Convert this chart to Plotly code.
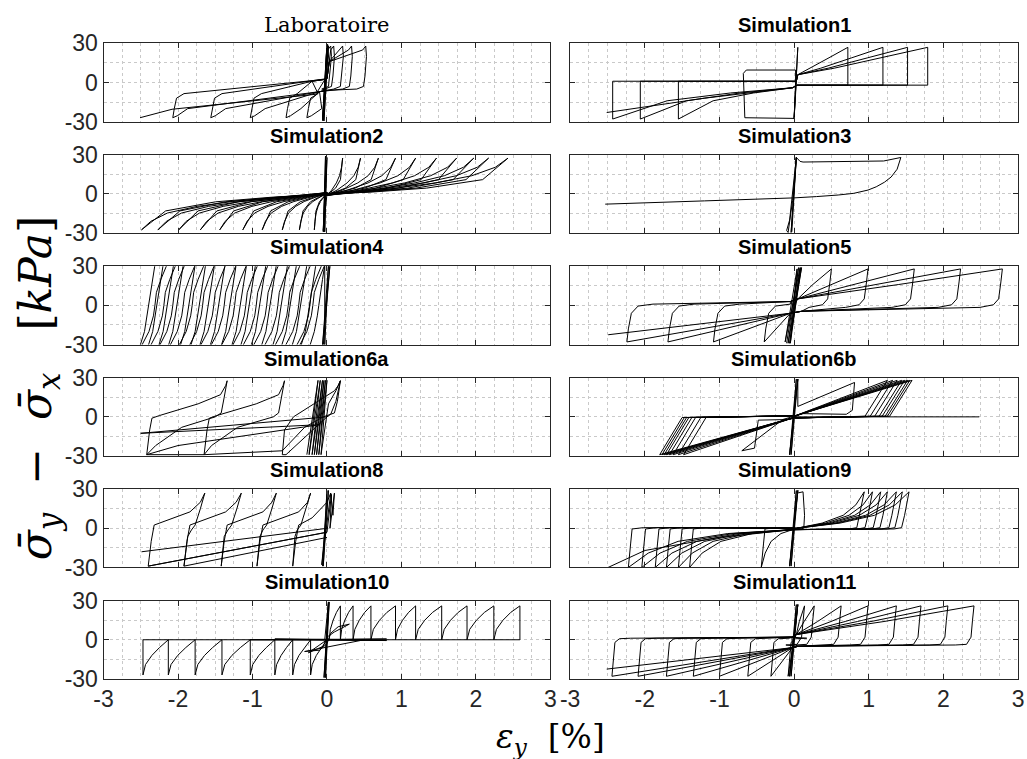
import plotly.graph_objects as go

# ---------------------------------------------------------------- layout (px)
FIG_W, FIG_H = 1027, 759
COL_X = [(95, 549), (569, 1024)]
ROW_TOP0, ROW_PITCH, ROW_H = 31.5, 115.4, 81

titles = ["Laboratoire", "Simulation1", "Simulation2", "Simulation3",
          "Simulation4", "Simulation5", "Simulation6a", "Simulation6b",
          "Simulation8", "Simulation9", "Simulation10", "Simulation11"]

x_ticks = [-3, -2, -1, 0, 1, 2, 3]
y_ticks = [-30, 0, 30]

# ---------------------------------------------------------------- data
# Loop templates: (kind, value, stress)
#   'c' -> strain = value
#   'a' -> strain = turning strain + value
#   'f' -> strain = turning strain * value

# Laboratoire
lab_core_x = [-0.05, 0.0, -0.06, 0.01, -0.04, 0.02, -0.06, 0.0, -0.05, 0.01, -0.02]
lab_core_y = [-29.5, 29.5, -29.0, 29.0, -29.5, 28.0, -29.0, 29.5, -28.5, 28.5, 2.0]
lab_xmax = [0.05, 0.09, 0.21, 0.33, 0.52]
lab_xmin = [-0.27, -0.55, -1.03, -1.56, -2.07]
lab_pos = [("c", 0.0, 3), ("c", 0.03, 16), ("a", -0.04, 25), ("a", 0.0, 28),
           ("a", 0.01, 20), ("a", -0.01, 5), ("a", -0.03, -3), ("a", -0.12, -5),
           ("c", 0.0, -6)]
lab_neg = [("c", -0.1, -7), ("a", 0.2, -20), ("a", 0.06, -25.5), ("a", 0.0, -27),
           ("a", 0.02, -20), ("a", 0.05, -12), ("a", 0.15, -8.5), ("c", -0.2, 1),
           ("c", -0.02, 2.5)]
lab_tail_x = [-0.02, -0.15, -2.08, -2.51]
lab_tail_y = [3.0, -9.0, -20.5, -27.0]

# Simulation1
sim1_core_x = [0.0, 0.04, 0.01, 0.05, 0.0, 0.04, 0.02, 0.02, -0.64, -0.68, -0.66, 0.0, 0.02]
sim1_core_y = [-27, 27, -27, 27, -28, 26, 0, 9.6, 9.6, 7, -27, -27.5, 0]
sim1_xmax = [0.72, 1.19, 1.52, 1.79]
sim1_xmin = [-1.55, -2.06, -2.43]
sim1_pos = [("c", 0.03, 1), ("c", 0.05, 6), ("f", 0.3, 11), ("f", 0.65, 19),
            ("a", 0.0, 27), ("a", 0.0, -2), ("c", 0.04, -2)]
sim1_neg = [("c", -0.02, -4), ("f", 0.35, -8), ("f", 0.7, -14), ("a", 0.0, -28),
            ("a", 0.0, 1), ("c", 0.0, 1)]
sim1_tail_x = [-0.02, -1.2, -2.51]
sim1_tail_y = [-4.0, -12.0, -23.0]

# Simulation2
sim2_core_x = [-0.04, -0.02, -0.05, -0.01, -0.04, 0.0, -0.03, -0.01, -0.05, 0.0]
sim2_core_y = [-29, 29, -29, 29, -29, 28, -29, 29, -28, 0]
sim2_xmax = [0.21, 0.45, 0.69, 0.92, 1.19, 1.47, 1.74, 1.97, 2.17, 2.43]
sim2_xmin = [-0.17, -0.37, -0.60, -0.87, -1.13, -1.44, -1.70, -1.99, -2.27, -2.49]
sim2_pos = [("c", 0.0, -1), ("f", 0.3, 3), ("f", 0.6, 8.5), ("f", 0.8, 14),
            ("f", 0.93, 20.5), ("a", 0.0, 27.5), ("f", 0.86, 11),
            ("f", 0.55, 4.5), ("f", 0.25, 1.5), ("c", 0.0, 0)]
sim2_neg = [("c", 0.0, 1), ("f", 0.22, -2), ("f", 0.51, -5.8), ("f", 0.7, -9.5),
            ("f", 0.86, -14.6), ("f", 0.95, -21), ("a", 0.0, -27.5), ("f", 0.87, -13),
            ("f", 0.6, -6), ("f", 0.3, -2.5), ("c", 0.0, 0)]

# Simulation3
sim3_x = [-0.03, 0.03, -0.04, 0.02, -0.03, 0.03, -0.06, -0.1, -0.08, -0.02, 0.03,
          0.08, 0.12, 0.6, 1.2, 1.43, 1.38, 1.3, 1.21, 1.1, 0.99, 0.8, 0.59, 0.3,
          0.0, -1.2, -2.53]
sim3_y = [-29, 28, -29.5, 27.5, -29, 28, -20, -28, -29.5, -5, 28, 25, 24.5, 24.8,
          25.3, 28, 19, 13, 9, 5.5, 3, 0.5, -0.8, -2, -3, -5.3, -7.8]

# Simulation4
sim4_core_x = [-0.05, 0.03, -0.04, 0.04, -0.06, 0.02, -0.03]
sim4_core_y = [-31, 31, -31, 31, -31, 31, -31]
sim4_top = [-0.03, -0.15, -0.27, -0.41, -0.53, -0.68, -0.82, -0.96, -1.08, -1.22,
            -1.37, -1.51, -1.63, -1.77, -1.93, -2.06, -2.20, -2.31]
sim4_bottom = [-0.37, -0.41, -0.56, -0.70, -0.84, -0.99, -1.13, -1.27,
               -1.42, -1.56, -1.70, -1.85, -1.99, -2.11, -2.25, -2.37, -2.49]
sim4_pos = [("a", 0.0, 31), ("a", -0.03, 20), ("a", -0.06, 10), ("a", -0.08, 0),
            ("a", -0.1, -8), ("a", -0.14, -20), ("a", -0.2, -31)]
sim4_neg = [("a", 0.0, -31), ("a", 0.1, -20), ("a", 0.16, -8), ("a", 0.18, 0),
            ("a", 0.2, 10), ("a", 0.26, 20), ("a", 0.34, 31)]

# Simulation5
sim5_core_x = [-0.1, 0.06, -0.08, 0.1, -0.06, 0.08, -0.12, 0.04, -0.05, 0.09, 0.0]
sim5_core_y = [-29, 29, -29, 29, -29, 29, -28, 28, -29, 29, 0]
sim5_xmax = [0.5, 0.99, 1.61, 2.23, 2.79]
sim5_xmin = [-0.40, -1.08, -1.69, -2.24]
sim5_pos = [("c", 0.05, 5), ("f", 0.5, 16), ("a", 0.0, 28), ("a", -0.02, 18),
            ("a", -0.05, 5), ("a", -0.12, 0.5), ("a", -0.3, -1.5), ("c", 0.1, -4.5)]
sim5_neg = [("c", -0.05, -6), ("a", 0.0, -28), ("a", 0.02, -18), ("a", 0.06, -6),
            ("a", 0.15, -0.5), ("a", 0.35, 1), ("c", -0.05, 3)]
sim5_tail_x = [-0.05, -2.49]
sim5_tail_y = [-6.0, -22.5]

# Simulation6a
sim6a_x = [-0.27, -0.12, -0.24, -0.09, -0.2, -0.06, -0.17, -0.04, -0.14, -0.02,
           -0.11, 0.0, -0.08, 0.02, 0.12, 0.18, 0.12, 0.05, 0.0,
           -0.55, -0.6, -0.57, -0.45, -0.05, 0.1, 0.15, 0.18, 0.14, 0.1, -0.05,
           -0.3, -0.6,
           -1.65, -1.61, -1.58, -1.48, -0.95, -0.65, -0.59, -0.57, -0.61, -0.65,
           -0.72, -1.2, -1.55, -1.65,
           -2.42, -2.38, -2.35, -2.25, -1.73, -1.43, -1.36, -1.34, -1.38, -1.42,
           -1.5, -1.95, -2.3, -2.42,
           -2.0, -0.1, -2.5, 0.0]
sim6a_y = [-29, 28, -29, 28, -29, 28, -29, 28, -29, 28, -29, 28, -29, 10, 20,
           27.7, 12, 2, 0,
           -29, -29, -10, 0, 15, 20, 24, 27.7, 12, 3, 0, -8, -26,
           -29, -10, -1, 1, 10, 17, 24, 27.7, 15, 3, 0, -8, -22, -29,
           -29, -10, -1, 1, 10, 17, 24, 27.7, 15, 3, 0, -8, -22, -29,
           -22, -6, -12.6, 0]

# Simulation6b
sim6b_core_x = [-0.06, 0.04, -0.05, 0.05, -0.06, 0.03, -0.04, 0.05, 0.05, 0.81,
                0.78, 0.7, 0.1, -0.05, -0.48, -0.53, -0.7, -0.15, 0.0]
sim6b_core_y = [-29, 29, -29, 29, -29, 29, -29, 29, 8, 26.4, 5, 2, 2.5, -2,
                -2.5, -24, -26, -2, 0]
sim6b_xmax = [1.25, 1.32, 1.38, 1.44, 1.48, 1.52, 1.55, 1.58]
sim6b_xmin = [-1.48, -1.55, -1.62, -1.67, -1.71, -1.74, -1.77, -1.80]
sim6b_pos = [("c", 0.0, 0.5), ("a", 0.0, 28), ("a", -0.3, 0.5), ("c", 0.02, -0.8)]
sim6b_neg = [("c", 0.0, -0.5), ("a", 0.0, -29), ("a", 0.3, -0.5), ("c", -0.02, 0.8)]
sim6b_tail_x = [0.0, 2.48]
sim6b_tail_y = [0.0, 0.0]

# Simulation8
sim8_core_x = [-0.06, 0.0, -0.05, 0.02, -0.07, 0.05, 0.08, 0.1, 0.04, 0.06, 0.0]
sim8_core_y = [-29, 29, -29, 29, -28, 27, 10, 27, 0, 26, -3]
sim8_chain_x = [-2.40, -2.36, -2.32, -2.13, -1.84, -1.70, -1.64, -1.70, -1.77,
                -1.82, -1.87, -1.92, -1.88, -1.84, -1.65, -1.36, -1.22, -1.15,
                -1.21, -1.28, -1.33, -1.38, -1.42, -1.38, -1.34, -1.15, -0.86,
                -0.74, -0.68, -0.74, -0.81, -0.86, -0.90, -0.94, -0.90, -0.86,
                -0.67, -0.38, -0.26, -0.22, -0.28, -0.35, -0.40, -0.43, -0.46,
                -0.42, -0.38, -0.2, 0.0, 0.05]
sim8_chain_y = [-29, -10, 2.5, 6.3, 12.6, 20, 27, 15, 2.5, -1.3, -6.3, -29,
                -10, 2.5, 6.3, 12.6, 20, 27, 15, 2.5, -1.3, -6.3, -29,
                -10, 2.5, 6.3, 12.6, 20, 27, 15, 2.5, -1.3, -6.3, -29,
                -10, 2.5, 6.3, 12.6, 20, 27, 15, 2.5, -1.3, -6.3, -29,
                -10, 2.5, 8, 20, 27]
sim8_lines_x = [0.0, -2.40, None, 0.0, -2.49, None, 0.0, -1.92]
sim8_lines_y = [-3.0, -29.0, None, 0.0, -18.0, None, -7.0, -29.0]

# Simulation9
sim9_core_x = [-0.06, 0.04, -0.05, 0.05, -0.06, 0.03, -0.04, 0.05, 0.04, 0.12,
               0.14, 0.13, 0.02]
sim9_core_y = [-29, 29, -29, 29, -29, 29, -29, 29, 27, 28, 10, 0, -1]
sim9_xmax = [0.94, 1.05, 1.16, 1.25, 1.37, 1.45, 1.54]
sim9_xmin = [-0.44, -1.40, -1.55, -1.71, -1.86, -2.04, -2.22]
sim9_pos = [("c", 0.03, 0), ("f", 0.4, 4), ("f", 0.7, 10), ("f", 0.88, 18),
            ("a", 0.0, 28), ("a", -0.06, 10), ("a", -0.1, 0.5), ("a", -0.2, -0.5),
            ("c", 0.03, -1)]
sim9_neg = [("c", -0.02, -1), ("f", 0.4, -4), ("f", 0.7, -10), ("f", 0.88, -19),
            ("a", 0.0, -30), ("a", 0.03, -12), ("a", 0.05, -0.5), ("a", 0.2, 0.5),
            ("c", -0.02, 0.5)]
sim9_tail_x = [-0.02, -1.0, -2.0, -2.51]
sim9_tail_y = [-1.0, -7.0, -17.0, -30.5]

# Simulation10
sim10_core_x = [-0.03, 0.02, -0.04, 0.03, -0.02, 0.02, -0.03, 0.8, -1.03, 0.8,
                -0.7, 0.5, -0.3, -0.1, 0.0, 0.05, 0.15, 0.3, 0.1, 0.0, -0.05,
                -0.25, 0.0]
sim10_core_y = [-29, 29, -29, 29, -29, 29, 0, 0.6, 0.0, -0.6, 0.6, 0.0, -9, -8,
                -3, 5, 10, 12, 6, 2, -5, -10, 0]
sim10_left = [-0.22, -0.46, -0.70, -1.03, -1.41, -1.77, -2.13, -2.47]
sim10_right = [0.03, 0.18, 0.35, 0.59, 0.92, 1.19, 1.54, 1.88, 2.24, 2.59]
sim10_tooth_f = [0.0, 0.1, 0.35, 0.65, 1.0, 1.0]
sim10_tooth_y = [0.0, 8.0, 15.0, 21.0, 26.0, 0.0]
sim10_ltooth_f = [0.0, 0.0, 0.1, 0.35, 0.65, 1.0]
sim10_ltooth_y = [0.0, -27.0, -19.0, -12.0, -6.0, 0.0]

# Simulation11
sim11_core_x = [-0.06, 0.04, -0.05, 0.05, -0.06, 0.03, -0.04, 0.05, 0.0]
sim11_core_y = [-28, 27, -28, 27, -28, 27, -28, 27, 0]
sim11_xmax = [0.14, 0.27, 0.63, 0.99, 1.37, 1.70, 2.06, 2.41]
sim11_xmin = [-0.08, -0.31, -0.62, -1.00, -1.35, -1.71, -2.09, -2.44]
sim11_pos = [("c", 0.03, 4), ("f", 0.5, 14), ("a", 0.0, 26), ("a", -0.02, 15),
             ("a", -0.04, 2), ("a", -0.1, -3.5), ("a", -0.25, -4), ("c", 0.05, -5)]
sim11_neg = [("c", -0.02, -6), ("a", 0.0, -28), ("a", 0.02, -15), ("a", 0.04, -2),
             ("a", 0.1, 0.8), ("a", 0.25, 1.2), ("c", -0.03, 2)]
sim11_tail_x = [-0.02, -2.51]
sim11_tail_y = [-6.0, -22.5]


# ---------------------------------------------------------------- helpers
def place(tpl, turn):
    xs, ys = [], []
    for kind, v, y in tpl:
        if kind == "c":
            xs.append(v)
        elif kind == "a":
            xs.append(turn + v)
        else:
            xs.append(turn * v)
        ys.append(y)
    return xs, ys


def cycles(xmax, xmin, pos_tpl, neg_tpl):
    xs, ys = [], []
    for i in range(max(len(xmax), len(xmin))):
        if i < len(xmax):
            a, b = place(pos_tpl, xmax[i])
            xs += a
            ys += b
        if i < len(xmin):
            a, b = place(neg_tpl, xmin[i])
            xs += a
            ys += b
    return xs, ys


def teeth(turns, frac, ys_tpl):
    xs, ys = [], []
    for prev, cur in zip(turns[:-1], turns[1:]):
        for f, y in zip(frac, ys_tpl):
            xs.append(prev + f * (cur - prev))
            ys.append(y)
    return xs, ys


def join(*parts):
    xs, ys = [], []
    for px, py in parts:
        xs += list(px)
        ys += list(py)
    return xs, ys


paths = []
paths.append(join((lab_core_x, lab_core_y),
                  cycles(lab_xmax, lab_xmin, lab_pos, lab_neg),
                  (lab_tail_x, lab_tail_y)))
paths.append(join((sim1_core_x, sim1_core_y),
                  cycles(sim1_xmax, sim1_xmin, sim1_pos, sim1_neg),
                  (sim1_tail_x, sim1_tail_y)))
paths.append(join((sim2_core_x, sim2_core_y),
                  cycles(sim2_xmax, sim2_xmin, sim2_pos, sim2_neg)))
paths.append((sim3_x, sim3_y))
paths.append(join((sim4_core_x, sim4_core_y),
                  cycles(sim4_top, sim4_bottom, sim4_pos, sim4_neg)))
paths.append(join((sim5_core_x, sim5_core_y),
                  cycles(sim5_xmax, sim5_xmin, sim5_pos, sim5_neg),
                  (sim5_tail_x, sim5_tail_y)))
paths.append((sim6a_x, sim6a_y))
paths.append(join((sim6b_core_x, sim6b_core_y),
                  cycles(sim6b_xmax, sim6b_xmin, sim6b_pos, sim6b_neg),
                  (sim6b_tail_x, sim6b_tail_y)))
paths.append(join((sim8_core_x, sim8_core_y), (sim8_chain_x, sim8_chain_y),
                  ([None], [None]), (sim8_lines_x, sim8_lines_y)))
paths.append(join((sim9_core_x, sim9_core_y),
                  cycles(sim9_xmax, sim9_xmin, sim9_pos, sim9_neg),
                  (sim9_tail_x, sim9_tail_y)))
paths.append(join((sim10_core_x, sim10_core_y),
                  teeth(sim10_right, sim10_tooth_f, sim10_tooth_y),
                  ([sim10_right[-1], sim10_left[-1]], [0.0, 0.0]),
                  teeth(sim10_left[::-1] + [0.0], sim10_ltooth_f,
                        sim10_ltooth_y)))
paths.append(join((sim11_core_x, sim11_core_y),
                  cycles(sim11_xmax, sim11_xmin, sim11_pos, sim11_neg),
                  (sim11_tail_x, sim11_tail_y)))

# ---------------------------------------------------------------- figure
fig = go.Figure()
AX = "#262626"
GRID = "#c9c9c9"
TICK_FONT = dict(family="Liberation Sans, Arial, sans-serif", size=23, color="#262626")

annotations = []
for k, (title, (px, py)) in enumerate(zip(titles, paths)):
    row, col = divmod(k, 2)
    x0, x1 = COL_X[col]
    top = ROW_TOP0 + ROW_PITCH * row
    bot = top + ROW_H
    xn = "x" if k == 0 else f"x{k + 1}"
    yn = "y" if k == 0 else f"y{k + 1}"
    xkey = "xaxis" if k == 0 else f"xaxis{k + 1}"
    ykey = "yaxis" if k == 0 else f"yaxis{k + 1}"

    fig.add_trace(go.Scatter(x=px, y=py, mode="lines", xaxis=xn, yaxis=yn,
                             line=dict(color="black", width=1),
                             connectgaps=False, hoverinfo="skip",
                             showlegend=False))

    fig.layout[xkey] = dict(
        domain=[x0 / FIG_W, x1 / FIG_W], anchor=yn, range=[-3, 3],
        tickvals=x_ticks, ticktext=[str(v) for v in x_ticks],
        showticklabels=(row == 5), ticks="inside", ticklen=5, tickcolor=AX,
        showline=True, linecolor=AX, linewidth=1, mirror="ticks",
        showgrid=True, gridcolor=GRID, griddash="dot", gridwidth=1,
        minor=dict(dtick=0.25, tick0=0, showgrid=True, gridcolor=GRID,
                   griddash="dot", gridwidth=1),
        zeroline=False, tickfont=TICK_FONT, fixedrange=True)
    fig.layout[ykey] = dict(
        domain=[1 - bot / FIG_H, 1 - top / FIG_H], anchor=xn, range=[-30, 30],
        tickvals=y_ticks, ticktext=[str(v) for v in y_ticks],
        showticklabels=(col == 0), ticks="inside", ticklen=5, tickcolor=AX,
        showline=True, linecolor=AX, linewidth=1, mirror="ticks",
        showgrid=True, gridcolor=GRID, griddash="dot", gridwidth=1,
        minor=dict(dtick=15, tick0=0, showgrid=True, gridcolor=GRID,
                   griddash="dot", gridwidth=1),
        zeroline=False, tickfont=TICK_FONT, fixedrange=True)

    if k == 0:
        tfont = dict(family="DejaVu Serif, serif", size=21, color="black")
    else:
        tfont = dict(family="Liberation Sans, Arial, sans-serif", size=20,
                     color="black")
    annotations.append(dict(
        text=f"<b>{title}</b>" if k else title,
        x=(x0 + x1) / 2 / FIG_W, y=1 - (top - 19.5) / FIG_H,
        xref="paper", yref="paper", xanchor="center", yanchor="middle",
        showarrow=False, font=tfont))

NB = "\u00a0"
annotations.append(dict(
    text=(f"<i>σ̄</i><sub><i>y</i></sub>{NB}{NB}−{NB}{NB}<i>σ̄</i><sub><i>x</i></sub>"
          f"{NB}{NB}{NB}[<i>kPa</i>]"),
    x=29 / FIG_W, y=1 - 388 / FIG_H, xref="paper", yref="paper",
    xanchor="center", yanchor="middle", textangle=-90, showarrow=False,
    font=dict(family="DejaVu Serif, serif", size=44, color="black")))
annotations.append(dict(
    text=f"<i>ε</i><sub><i>y</i></sub>{NB}{NB}[%]",
    x=549 / FIG_W, y=1 - 751 / FIG_H, xref="paper", yref="paper",
    xanchor="center", yanchor="middle", showarrow=False,
    font=dict(family="DejaVu Serif, serif", size=33, color="black")))

fig.update_layout(width=FIG_W, height=FIG_H, autosize=False,
                  margin=dict(l=0, r=0, t=0, b=0),
                  paper_bgcolor="white", plot_bgcolor="white",
                  annotations=annotations)

fig.write_html("out.html", post_script="document.body.style.margin='0';")
